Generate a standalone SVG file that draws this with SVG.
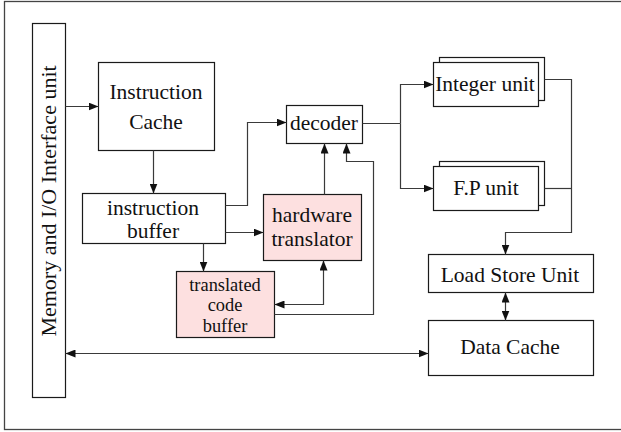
<svg xmlns="http://www.w3.org/2000/svg" width="621" height="432" viewBox="0 0 621 432">
  <style>
    .box { fill: #ffffff; stroke: #1a1a1a; stroke-width: 1.2; }
    .pink { fill: #fde0e0; stroke: #1a1a1a; stroke-width: 1.2; }
    .wire { fill: none; stroke: #3a3a3a; stroke-width: 1.2; }
    .lbl { font-family: "Liberation Serif", "Times New Roman", serif; font-size: 21.5px; fill: #111; text-anchor: middle; }
    .tight { font-size: 18.4px; }
  </style>
  <defs>
    <marker id="ah" viewBox="0 0 10 8" refX="10" refY="4" markerWidth="10" markerHeight="8" markerUnits="userSpaceOnUse" orient="auto-start-reverse">
      <path d="M0,0 L10,4 L0,8 z" fill="#111"/>
    </marker>
  </defs>

  <rect x="0" y="0" width="621" height="432" fill="#ffffff"/>
  <!-- outer frame -->
  <rect x="4.5" y="1.5" width="630" height="428" fill="none" stroke="#444" stroke-width="1.3"/>

  <g id="memory-io">
    <rect class="box" x="32.5" y="23.5" width="33" height="374"/>
    <text class="lbl" style="font-size:22px" transform="translate(56,201) rotate(-90)">Memory and I/O Interface unit</text>
  </g>

  <g id="instruction-cache">
    <rect class="box" x="98.5" y="62.5" width="116" height="88"/>
    <text class="lbl" x="156" y="99">Instruction</text>
    <text class="lbl" x="156" y="129">Cache</text>
  </g>

  <g id="instruction-buffer">
    <rect class="box" x="82.5" y="193.5" width="143" height="50"/>
    <text class="lbl" x="153" y="215">instruction</text>
    <text class="lbl" x="153" y="238">buffer</text>
  </g>

  <g id="decoder">
    <rect class="box" x="286.5" y="105.5" width="76" height="38"/>
    <text class="lbl" x="324" y="130">decoder</text>
  </g>

  <g id="hardware-translator">
    <rect class="pink" x="263.5" y="194.5" width="98" height="66"/>
    <text class="lbl" x="312" y="222">hardware</text>
    <text class="lbl" x="312" y="246">translator</text>
  </g>

  <g id="translated-code-buffer">
    <rect class="pink" x="176.5" y="271.5" width="98" height="66"/>
    <text class="lbl tight" x="225" y="290.5">translated</text>
    <text class="lbl tight" x="225" y="311">code</text>
    <text class="lbl tight" x="225" y="331.5">buffer</text>
  </g>

  <g id="integer-unit">
    <rect class="box" x="439.5" y="57.5" width="105" height="43"/>
    <rect class="box" x="433.5" y="62.5" width="105" height="44"/>
    <text class="lbl" x="485" y="91">Integer unit</text>
  </g>

  <g id="fp-unit">
    <rect class="box" x="439.5" y="161.5" width="105" height="44"/>
    <rect class="box" x="433.5" y="166.5" width="105" height="44"/>
    <text class="lbl" x="486" y="195">F.P unit</text>
  </g>

  <g id="load-store-unit">
    <rect class="box" x="428.5" y="254.5" width="165" height="38"/>
    <text class="lbl" x="510" y="282">Load Store Unit</text>
  </g>

  <g id="data-cache">
    <rect class="box" x="428.5" y="320.5" width="165" height="55"/>
    <text class="lbl" x="510" y="354">Data Cache</text>
  </g>

  <g id="connectors">
    <!-- memory interface to instruction cache -->
    <path class="wire" d="M65.5,106.5 H98.5" marker-end="url(#ah)"/>
    <!-- instruction cache to instruction buffer -->
    <path class="wire" d="M153.5,150.5 V193.5" marker-end="url(#ah)"/>
    <!-- instruction buffer to decoder -->
    <path class="wire" d="M225.5,205.5 H247.5 V122.5 H286.5" marker-end="url(#ah)"/>
    <!-- instruction buffer to hardware translator -->
    <path class="wire" d="M225.5,232.5 H263.5" marker-end="url(#ah)"/>
    <!-- instruction buffer to translated code buffer -->
    <path class="wire" d="M203.5,243.5 V271.5" marker-end="url(#ah)"/>
    <!-- hardware translator to decoder -->
    <path class="wire" d="M324.5,194.5 V143.5" marker-end="url(#ah)"/>
    <!-- hardware translator <-> translated code buffer -->
    <path class="wire" d="M323.5,260.5 V304.5 H274.5" marker-start="url(#ah)" marker-end="url(#ah)"/>
    <!-- translated code buffer to decoder -->
    <path class="wire" d="M274.5,314.5 H373.5 V161.5 H346.5 V143.5" marker-end="url(#ah)"/>
    <!-- decoder to execution units -->
    <path class="wire" d="M362.5,123.5 H400.5"/>
    <path class="wire" d="M400.5,123.5 V84.5 H433.5" marker-end="url(#ah)"/>
    <path class="wire" d="M400.5,123.5 V188.5 H433.5" marker-end="url(#ah)"/>
    <!-- execution units to load store unit -->
    <path class="wire" d="M544.5,79.5 H571.5 V232.5 H505.5 V254.5" marker-end="url(#ah)"/>
    <path class="wire" d="M544.5,188.5 H571.5"/>
    <!-- load store unit <-> data cache -->
    <path class="wire" d="M505.5,292.5 V320.5" marker-start="url(#ah)" marker-end="url(#ah)"/>
    <!-- memory interface <-> data cache -->
    <path class="wire" d="M65.5,353.5 H428.5" marker-start="url(#ah)" marker-end="url(#ah)"/>
  </g>
</svg>
